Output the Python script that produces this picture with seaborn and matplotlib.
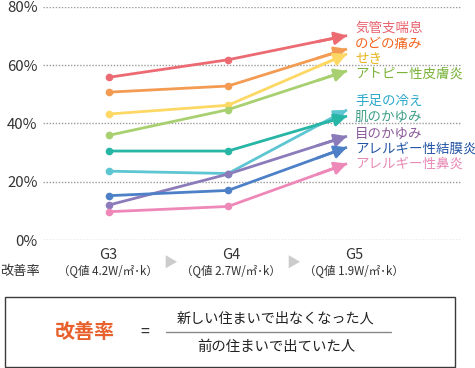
import matplotlib
matplotlib.use("Agg")
import numpy as np
import pandas as pd
import matplotlib.pyplot as plt
import seaborn as sns
from matplotlib.patches import Rectangle
from matplotlib.lines import Line2D

# ---------------- data ----------------
grades = ["G3", "G4", "G5"]
q_labels = ["（Q値 4.2W/㎡･k）", "（Q値 2.7W/㎡･k）", "（Q値 1.9W/㎡･k）"]
symptoms = ["気管支喘息", "のどの痛み", "せき", "アトピー性皮膚炎", "手足の冷え",
            "肌のかゆみ", "目のかゆみ", "アレルギー性結膜炎", "アレルギー性鼻炎"]
g3 = [55.8, 50.7, 43.2, 35.9, 23.6, 30.5, 12.0, 15.2, 9.7]
g4 = [61.8, 52.8, 46.2, 44.7, 22.8, 30.5, 22.6, 17.0, 11.5]
g5 = [70.1, 65.5, 63.8, 58.0, 44.6, 42.5, 35.6, 31.8, 26.2]
y_ticks = [0, 20, 40, 60, 80]
y_tick_labels = ["0%", "20%", "40%", "60%", "80%"]
row_label = "改善率"
formula_left = "改善率"
formula_num = "新しい住まいで出なくなった人"
formula_den = "前の住まいで出ていた人"

line_colors = ["#EC6A72", "#F39B52", "#FDD865", "#A8D070", "#5EC6D2",
               "#27B5A5", "#8C7BBA", "#4D80C6", "#EE88B8"]
text_colors = ["#E8636E", "#F2641E", "#E9B21A", "#7AB23A", "#2AA8C8",
               "#3E9E86", "#8A5A9A", "#2455A5", "#E88AB5"]

# ---------------- style ----------------
sns.set_theme(style="white")
plt.rcParams["font.family"] = ["Noto Sans CJK JP", "DejaVu Sans"]

W, H = 475, 368
fig = plt.figure(figsize=(W / 100, H / 100), dpi=100)


def px(x, y):
    return x / W, 1 - y / H


x0, x1 = 43, 461
ytop, ybot = 6.7, 240
ax = fig.add_axes([x0 / W, 1 - ybot / H, (x1 - x0) / W, (ybot - ytop) / H])

rows = []
for i, s in enumerate(symptoms):
    for j, v in enumerate([g3[i], g4[i], g5[i]]):
        rows.append({"symptom": s, "x": j, "value": v})
df = pd.DataFrame(rows)

sns.lineplot(data=df, x="x", y="value", hue="symptom", hue_order=symptoms,
             palette=line_colors, legend=False, sort=False, ax=ax,
             lw=2.0, marker="o", markersize=5.5, markeredgewidth=0,
             markevery=[0, 1], solid_capstyle="butt")

for i, s in enumerate(symptoms):
    ax.annotate("", xy=(2, g5[i]), xytext=(1.75, g4[i] + 0.75 * (g5[i] - g4[i])),
                arrowprops=dict(arrowstyle="-|>,head_length=0.75,head_width=0.38",
                                color=line_colors[i], lw=2.0, shrinkA=0, shrinkB=0,
                                mutation_scale=10))

ax.set_xlim((x0 - 109) / 119, (x1 - 109) / 119)
ax.set_ylim(0, 80)
for yv in y_ticks:
    ax.axhline(yv, color="#9A9A9A", lw=1.0, ls=(0, (1, 1.2)), zorder=0)
ax.set_yticks(y_ticks)
ax.set_yticklabels(y_tick_labels, fontsize=10.8, color="#333333")
ax.tick_params(axis="y", length=0, pad=4)
ax.set_xticks([])
ax.set_xlabel("")
ax.set_ylabel("")
for sp in ax.spines.values():
    sp.set_visible(False)
ax.patch.set_alpha(0)

# right-side labels
label_y = [28, 44, 59, 74, 101, 117, 134, 149, 164]
for s, c, yy in zip(symptoms, text_colors, label_y):
    fig.text(*px(355, yy), s, color=c, fontsize=9.7, va="center", ha="left")

# x labels
gx = [108, 231, 354]
for g, q, xx in zip(grades, q_labels, gx):
    fig.text(*px(xx, 255), g, fontsize=10.5, color="#333333", ha="center", va="center")
    fig.text(*px(xx, 272), q, fontsize=8.3, color="#333333", ha="center", va="center")
fig.text(*px(20, 272), row_label, fontsize=9.5, color="#333333", ha="center", va="center")
for xx in [170, 293]:
    fig.text(*px(xx, 264), "▶", fontsize=10, color="#CCCCCC", ha="center", va="center")

# formula box
bx0, by0, bx1, by1 = 5, 297, 455, 367
fig.add_artist(Rectangle(px(bx0, by1), (bx1 - bx0) / W, (by1 - by0) / H,
                         transform=fig.transFigure, fill=False,
                         edgecolor="#3A3A3A", lw=1.0))
fig.text(*px(85, 332), formula_left, fontsize=14.4, color="#E8602C",
         fontweight="bold", ha="center", va="center")
fig.text(*px(145, 332), "=", fontsize=11.5, color="#333333", ha="center", va="center")
fig.text(*px(276, 319), formula_num, fontsize=10.2, color="#222222", ha="center", va="center")
fig.text(*px(276, 347), formula_den, fontsize=10.4, color="#222222", ha="center", va="center")
fig.add_artist(Line2D([166 / W, 391 / W], [1 - 332 / H, 1 - 332 / H],
                      transform=fig.transFigure, color="#888888", lw=1.0))

fig.savefig("out.png", dpi=100)
